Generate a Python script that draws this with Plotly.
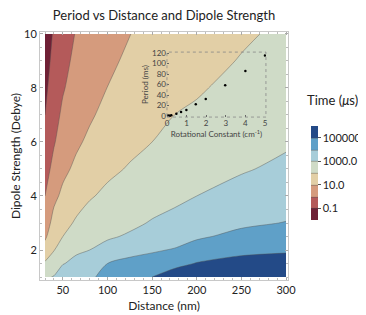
import plotly.graph_objects as go

# ---- main contour data ----
distance_nm = [30, 40, 50, 65, 80, 100, 125, 150, 175, 200, 250, 300]
dipole_debye = [1, 1.5, 2, 2.5, 3, 4, 5, 6, 7, 8, 9, 10]
# log10 of period in microseconds, rows follow dipole_debye, columns follow distance_nm
log10_time_us = [
    [2.85, 3.06, 3.68, 3.75, 3.82, 4.35, 4.60, 5.00, 5.50, 5.90, 6.10, 6.20],
    [2.12, 2.42, 2.94, 3.30, 3.45, 4.00, 4.30, 4.37, 4.71, 5.05, 5.37, 5.45],
    [1.37, 1.97, 2.41, 2.82, 3.00, 3.33, 3.65, 3.90, 4.06, 4.38, 4.73, 4.87],
    [0.85, 1.61, 2.00, 2.43, 2.66, 2.88, 3.11, 3.44, 3.62, 3.88, 4.23, 4.41],
    [0.52, 1.31, 1.69, 2.12, 2.38, 2.60, 2.81, 3.07, 3.27, 3.54, 3.85, 4.03],
    [0.00, 0.79, 1.19, 1.59, 1.92, 2.18, 2.39, 2.61, 2.79, 3.00, 3.32, 3.55],
    [-0.40, 0.30, 0.79, 1.18, 1.50, 1.82, 2.07, 2.28, 2.48, 2.65, 2.92, 3.18],
    [-0.72, -0.08, 0.45, 0.86, 1.16, 1.51, 1.79, 2.00, 2.22, 2.36, 2.65, 2.89],
    [-1.00, -0.33, 0.17, 0.62, 0.89, 1.24, 1.55, 1.76, 2.00, 2.11, 2.42, 2.66],
    [-1.20, -0.54, -0.08, 0.40, 0.67, 1.01, 1.34, 1.55, 1.79, 1.92, 2.22, 2.47],
    [-1.38, -0.72, -0.27, 0.22, 0.49, 0.82, 1.16, 1.37, 1.60, 1.76, 2.04, 2.30],
    [-1.55, -0.88, -0.45, 0.06, 0.33, 0.66, 0.99, 1.20, 1.43, 1.61, 1.90, 2.14],
]
colorbar_tickvals = [-1, 1, 3, 5]
colorbar_ticktext = ["0.1", "10.0", "1000.0", "100000.0"]

# ---- inset data ----
rot_constant = [0.02, 0.05, 0.1, 0.15, 0.22, 0.48, 0.72, 0.99, 1.47, 1.98, 2.97, 4.0, 5.0]
period_ms = [0.3, 0.4, 0.5, 0.7, 1.3, 4.4, 7.7, 11.5, 22.4, 32.5, 58.7, 86.0, 115.4]

band_colors = ["#6F2035", "#B45A5A", "#D59B7D", "#E2CFA6",
               "#CFDBC7", "#A7CDD9", "#5FA0C8", "#234A87"]
n = len(band_colors)
colorscale = []
for i, c in enumerate(band_colors):
    colorscale.append([i / n, c])
    colorscale.append([(i + 1) / n, c])

FONT = "Lato"
fig = go.Figure()
fig.add_trace(go.Contour(
    x=distance_nm, y=dipole_debye, z=log10_time_us,
    zauto=False, zmin=-2, zmax=6,
    colorscale=colorscale,
    contours=dict(start=-1, end=5, size=1, coloring="fill"),
    line=dict(color="rgba(80,80,80,0.7)", width=0.6, smoothing=0.9),
    colorbar=dict(
        tickvals=colorbar_tickvals, ticktext=colorbar_ticktext,
        ticks="outside", ticklen=3, tickcolor="#555",
        tickfont=dict(size=11, color="#222", family=FONT),
        thickness=7, len=94, lenmode="pixels",
        x=1.093, xref="paper", xanchor="left", xpad=0,
        y=0.431, yanchor="middle", ypad=0,
        outlinewidth=0,
    ),
    hoverinfo="skip",
))

fig.add_trace(go.Scatter(
    x=rot_constant, y=period_ms, mode="markers",
    marker=dict(color="black", size=2.5),
    xaxis="x2", yaxis="y2", showlegend=False,
))

fig.update_layout(
    width=358, height=307,
    margin=dict(l=32, r=78, t=24, b=35, autoexpand=False),
    paper_bgcolor="white", plot_bgcolor="rgba(0,0,0,0)",
    font=dict(family=FONT, color="#222"),
    title=dict(text="Period vs Distance and Dipole Strength", x=0.5, xref="paper",
               y=0.99, yanchor="top", font=dict(size=13, color="#222", family=FONT)),
    xaxis=dict(range=[24.4, 302.2], tickvals=[50, 100, 150, 200, 250, 300],
               showgrid=False, zeroline=False, showline=True, linecolor="#c8c8c8",
               linewidth=1, mirror="ticks", ticks="inside", ticklen=3, tickcolor="#aaa",
               minor=dict(ticks="inside", ticklen=2, dtick=10, tickcolor="#bbb"),
               tickfont=dict(size=11, color="#222"),
               title=dict(text="Distance (nm)", font=dict(size=12, color="#222"), standoff=6)),
    yaxis=dict(range=[0.89, 10.07], tickvals=[2, 4, 6, 8, 10],
               showgrid=False, zeroline=False, showline=True, linecolor="#c8c8c8",
               linewidth=1, mirror="ticks", ticks="inside", ticklen=3, tickcolor="#aaa",
               minor=dict(ticks="inside", ticklen=2, dtick=0.5, tickcolor="#bbb"),
               tickfont=dict(size=11, color="#222"),
               title=dict(text="Dipole Strength (Debye)", font=dict(size=12, color="#222"), standoff=2)),
    xaxis2=dict(domain=[0.512, 0.911], anchor="y2", range=[0, 5.05],
                tickvals=[0, 1, 2, 3, 4, 5], showgrid=False, zeroline=False,
                showline=False, ticks="inside", ticklen=2, tickcolor="#666",
                tickfont=dict(size=8, color="#444"),
                title=dict(text="Rotational Constant (cm<sup>-1</sup>)",
                           font=dict(size=8, color="#444"), standoff=2)),
    yaxis2=dict(domain=[0.657, 0.919], anchor="x2", range=[-2, 122],
                tickvals=[0, 20, 40, 60, 80, 100, 120], showgrid=False, zeroline=False,
                showline=False, ticks="inside", ticklen=2, tickcolor="#666",
                tickfont=dict(size=8, color="#444"),
                title=dict(text="Period (ms)", font=dict(size=8, color="#444"), standoff=2)),
    shapes=[dict(type="rect", xref="x2 domain", yref="y2 domain", x0=0, x1=1, y0=0, y1=1,
                 line=dict(color="#888", width=0.8, dash="dot"))],
    annotations=[dict(text="Time (<i>μ</i>s)", xref="paper", yref="paper",
                      x=1.069, y=0.726, xanchor="left", yanchor="middle", showarrow=False,
                      font=dict(size=13, color="#222", family=FONT))],
)

fig.write_html("out.html")
